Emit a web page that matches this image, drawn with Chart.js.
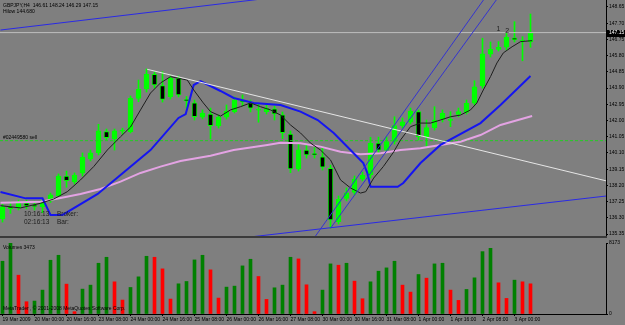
<!DOCTYPE html>
<html>
<head>
<meta charset="utf-8">
<title>GBPJPY,H4</title>
<script src="https://cdn.jsdelivr.net/npm/chart.js@4.4.1/dist/chart.umd.min.js"></script>
<style>
  html, body { margin: 0; padding: 0; background: #7f7f7f; }
  #wrap { position: relative; width: 625px; height: 325px; overflow: hidden; background: #7f7f7f; }
  #priceBox { position: absolute; left: 0; top: 0; width: 625px; height: 236px; }
  #volBox { position: absolute; left: 0; top: 238px; width: 625px; height: 87px; }
  #split { position: absolute; left: 0; top: 236px; width: 607px; height: 2px; background: #3a3a3a; }
  .lbl { position: absolute; font-family: "Liberation Sans", Arial, sans-serif; font-size: 5px; line-height: 6px; color: #000; white-space: nowrap; }
  .clock { font-size: 6.5px; line-height: 8px; color: #1c1c1c; }
</style>
</head>
<body>
<div id="wrap">
  <div id="priceBox"><canvas id="priceChart"></canvas></div>
  <div id="split"></div>
  <div id="volBox"><canvas id="volChart"></canvas></div>
  <div class="lbl" style="left:3px;top:2px">GBPJPY,H4&nbsp; 146.61 148.24 146.29 147.15</div>
  <div class="lbl" style="left:3px;top:8px">Hilow 144.680</div>
  <div class="lbl clock" style="left:24px;top:210px">10:16:13</div>
  <div class="lbl clock" style="left:57px;top:210px">Broker:</div>
  <div class="lbl clock" style="left:24px;top:218px">02:16:13</div>
  <div class="lbl clock" style="left:57px;top:218px">Bar:</div>
  <div class="lbl" style="left:3px;top:244px">Volumes 3473</div>
  <div class="lbl" style="left:3px;top:305px">MetaTrader , &copy; 2001-2008 MetaQuotes Software Corp.</div>
</div>
<script>
// H4 candles, bar 0 = 19 Mar 2009 08:00
const opens  = [136.23,136.95,136.86,137.17,137.03,136.95,137.29,137.60,138.75,138.40,138.91,139.75,140.10,141.35,140.93,141.38,141.34,143.30,143.85,144.71,144.04,143.40,144.47,143.22,143.03,142.19,142.38,141.68,142.19,142.52,143.20,143.04,142.60,142.52,142.69,142.34,141.21,139.16,140.27,140.04,139.88,139.20,136.07,137.44,137.79,138.57,138.81,140.68,140.26,140.77,141.70,141.90,142.52,141.05,141.58,142.07,142.01,142.36,142.48,143.01,144.02,145.88,146.17,146.29,146.85,146.66,146.61];
const highs  = [137.11,137.24,137.34,137.34,137.28,137.40,137.75,138.87,139.04,138.93,140.10,140.27,141.78,141.50,141.50,141.55,143.44,144.37,145.02,144.84,144.86,144.61,144.61,143.41,143.20,142.62,142.73,142.32,142.91,143.38,143.50,143.20,143.01,142.91,142.85,142.50,141.39,140.62,140.61,140.41,140.39,139.39,137.58,138.05,138.75,138.98,141.02,141.03,141.05,142.22,142.15,142.73,142.62,142.03,142.81,142.62,142.52,142.73,143.20,144.33,146.82,146.60,146.62,147.14,147.79,146.91,148.24];
const lows   = [136.05,136.56,136.76,136.82,136.76,136.60,137.20,137.52,138.09,138.28,138.75,139.63,139.98,140.86,140.27,141.20,141.27,143.10,143.67,143.90,143.08,143.26,143.38,142.72,142.03,142.09,140.92,141.56,142.09,142.44,142.85,142.50,141.90,142.38,142.03,140.93,138.94,139.04,139.80,139.80,139.10,135.69,135.94,137.29,137.64,138.46,138.63,140.10,140.16,140.62,141.56,141.80,140.86,140.47,141.44,141.91,141.64,142.21,142.38,142.91,143.90,145.72,146.07,146.13,146.60,145.50,146.29];
const closes = [136.95,136.83,137.19,137.00,136.97,137.29,137.64,138.75,138.47,138.81,139.85,140.10,141.39,141.00,141.39,141.42,143.30,143.83,144.71,144.08,143.24,144.47,143.50,143.16,142.22,142.43,141.70,142.19,142.56,143.20,143.09,142.72,142.64,142.72,142.38,141.29,139.16,140.29,139.98,140.00,139.26,136.17,137.38,137.77,138.56,138.81,140.67,140.27,140.76,141.70,141.93,142.56,141.05,141.58,142.03,142.42,142.05,142.52,143.01,143.98,145.90,146.17,146.29,146.87,146.72,146.70,147.15];
const volumes = [6073,8173,4468,1413,1489,2750,6187,6760,3437,267,2864,3323,5843,6531,3705,1604,3055,4277,6645,6531,5194,1719,3475,3743,6225,6760,5079,1833,3094,3208,5538,6302,4316,1680,3017,3323,6531,6340,3361,267,2750,5767,5614,5843,3781,1757,3705,4927,5309,6073,3323,2521,4545,4125,5767,5843,2750,1566,2826,4163,7180,7562,3590,1795,3896,3705,3473];

// indicator lines (bar position, price)
const maFastBars = [-0.25,2.25,4.75,6.4,8.1,9.75,11.4,13.1,14.75,16,17.25,18.5,19.75,21,23.1,23.9,25.1,26,27.25,28.5,29.75,31,32.25,33.5,34.75,36,37.25,38.5,39.75,41,42.25,43.5,44.75,45.4,46.4,47.6,48.9,49.75,51,52.25,53.5,54.75,56,57.25,58.5,59.3,60.1,61,61.8,62.6,63.7,64.75,66.2];
const maFastVals = [137.01,136.88,137.15,137.40,137.83,138.52,139.30,140.27,141.05,141.62,142.62,143.61,144.20,144.57,144.37,143.79,143.03,142.52,142.26,142.62,142.81,143.03,142.81,142.62,142.32,141.74,141.27,140.68,140.27,139.69,138.52,138.05,137.75,137.83,138.63,139.30,140.16,140.86,141.64,141.85,141.85,142.03,142.22,142.32,142.62,143.03,143.79,144.57,145.37,145.96,146.32,146.62,146.68];
const maBlueBars = [-0.25,2.9,5,6,7.5,11.9,18.5,22,22.9,23.9,24.75,27.25,28.9,31.4,34.75,37.25,39.4,41.4,43.5,45.1,45.6,46,49.4,50.1,52.25,54.75,59.75,62.25,66];
const maBlueVals = [137.81,137.44,137.44,136.47,136.47,137.70,140.27,142.15,142.38,144.08,144.31,143.73,143.32,143.03,142.91,142.52,142.03,141.27,140.27,139.51,138.93,138.12,138.12,138.34,139.51,140.57,141.85,142.91,144.61];
const maPinkBars = [-0.25,4.75,7.25,9.75,12.25,14.75,17.25,19.75,22.25,26,28.9,33.1,34.75,37.25,39.75,42.25,44.75,47.25,49.75,52.25,54.75,57.25,59.75,62.25,66.2];
const maPinkVals = [137.19,137.24,137.46,137.70,137.99,138.42,138.93,139.30,139.63,139.94,140.27,140.57,140.70,140.67,140.47,140.17,140.02,140.08,140.27,140.37,140.57,140.76,141.15,141.74,142.26];

// drawn objects: trend line and channels (two anchor points each)
const trendBars = [18.09, 75.5];     const trendVals = [145.00, 138.46];
const chanTopBars = [-0.25, 34.75];  const chanTopVals = [147.30, 149.25];
const chanLowBars = [31, 75.5];      const chanLowVals = [135.18, 137.58];
const steepABars = [38.77, 60.39];   const steepAVals = [135.00, 149.24];
const steepBBars = [41, 62.0];       const steepBVals = [135.69, 149.24];

const lastPrice = 147.15;
const orderPrice = 140.82;
const orderLabel = '#02449580 sell';
const waveMarks = [{ bar: 62, price: 147.35, text: '1' }, { bar: 63.1, price: 147.25, text: '2' }];

const priceTicks = [148.65,147.70,146.75,145.80,144.85,143.90,142.95,142.00,141.05,140.10,139.15,138.20,137.25,136.30,135.35];
const dateLabels = ['19 Mar 2009','20 Mar 00:00','20 Mar 16:00','23 Mar 08:00','24 Mar 00:00','24 Mar 16:00','25 Mar 08:00','26 Mar 00:00','26 Mar 16:00','27 Mar 08:00','30 Mar 00:00','30 Mar 16:00','31 Mar 08:00','1 Apr 00:00','1 Apr 16:00','2 Apr 08:00','3 Apr 00:00'];
const volTicks = [0, 8173];

const FONT = '"Liberation Sans", Arial, sans-serif';
const X_MIN = -0.3125, X_MAX = 75.4375;
const BULL = '#00ff00';

function lineSet(bars, vals, color, width, order, dash) {
  return {
    type: 'line',
    data: bars.map((b, k) => ({ x: b, y: vals[k] })),
    borderColor: color,
    borderWidth: width,
    borderDash: dash || [],
    pointRadius: 0,
    fill: false,
    tension: 0,
    order: order
  };
}

function squeeze(w) {
  return function (s) { s.width = w; s.paddingTop = 0; s.paddingBottom = 0; };
}

const idx = opens.map((_, i) => i);

const priceMarks = {
  id: 'priceMarks',
  afterDatasetsDraw(chart) {
    const { ctx, scales: { x, y } } = chart;
    ctx.save();
    ctx.fillStyle = '#000';
    ctx.font = '5px ' + FONT;
    ctx.textBaseline = 'bottom';
    ctx.fillText(orderLabel, x.left + 3, y.getPixelForValue(orderPrice) - 1);
    ctx.font = '7px ' + FONT;
    ctx.fillStyle = '#222';
    ctx.textAlign = 'center';
    ctx.textBaseline = 'middle';
    waveMarks.forEach(m => ctx.fillText(m.text, x.getPixelForValue(m.bar), y.getPixelForValue(m.price)));
    ctx.restore();
  },
  afterDraw(chart) {
    const { ctx, scales: { y } } = chart;
    const py = y.getPixelForValue(lastPrice);
    ctx.save();
    ctx.fillStyle = '#000';
    ctx.fillRect(y.left + 1, Math.round(py) - 3, 18, 7);
    ctx.fillStyle = '#fff';
    ctx.font = '5px ' + FONT;
    ctx.textBaseline = 'middle';
    ctx.fillText(lastPrice.toFixed(2), y.left + 3, py + 0.5);
    ctx.restore();
  }
};

new Chart(document.getElementById('priceChart'), {
  type: 'bar',
  data: {
    datasets: [
      { type: 'bar', data: idx.map(i => ({ x: i, y: [lows[i], highs[i]] })), backgroundColor: BULL, barThickness: 1, grouped: false, order: 20 },
      { type: 'bar', data: idx.map(i => ({ x: i, y: [opens[i], closes[i]] })),
        backgroundColor: idx.map(i => closes[i] >= opens[i] ? BULL : '#000'),
        borderColor: BULL, borderWidth: 1, borderSkipped: false, minBarLength: 1,
        barThickness: 5, grouped: false, order: 19 },
      lineSet([X_MIN, X_MAX], [lastPrice, lastPrice], '#bdbdbd', 1, 9),
      lineSet([X_MIN, X_MAX], [orderPrice, orderPrice], '#22cc22', 1, 8, [3, 2]),
      lineSet(maPinkBars, maPinkVals, '#e3a3e3', 2, 7),
      lineSet(maBlueBars, maBlueVals, '#1515f0', 2, 6),
      lineSet(maFastBars, maFastVals, '#1e1e1e', 1, 5),
      lineSet(trendBars, trendVals, '#e6e6e6', 1, 4),
      lineSet(chanTopBars, chanTopVals, '#2a2ae6', 1, 3),
      lineSet(chanLowBars, chanLowVals, '#2a2ae6', 1, 3),
      lineSet(steepABars, steepAVals, '#3434d0', 1, 2),
      lineSet(steepBBars, steepBVals, '#3434d0', 1, 2)
    ]
  },
  options: {
    responsive: true,
    maintainAspectRatio: false,
    animation: false,
    layout: { padding: 0 },
    plugins: { legend: { display: false }, tooltip: { enabled: false } },
    scales: {
      x: { type: 'linear', min: X_MIN, max: X_MAX, offset: false, display: false },
      y: {
        position: 'right',
        min: 135.235, max: 149.06,
        afterBuildTicks: s => { s.ticks = priceTicks.map(v => ({ value: v })); },
        afterFit: squeeze(19),
        grid: { drawOnChartArea: false, color: '#000', tickLength: 2 },
        border: { color: '#000', width: 1 },
        ticks: { autoSkip: false, padding: 1, color: '#000', font: { family: FONT, size: 5 }, callback: v => v.toFixed(2) }
      }
    }
  },
  plugins: [priceMarks]
});

new Chart(document.getElementById('volChart'), {
  type: 'bar',
  data: {
    datasets: [{
      data: idx.map(i => ({ x: i, y: volumes[i] })),
      backgroundColor: idx.map(i => (i === 0 || volumes[i] > volumes[i - 1]) ? '#008000' : '#ff0000'),
      barThickness: 3,
      grouped: false
    }]
  },
  options: {
    responsive: true,
    maintainAspectRatio: false,
    animation: false,
    layout: { padding: { top: 5 } },
    plugins: { legend: { display: false }, tooltip: { enabled: false } },
    scales: {
      x: {
        type: 'linear', min: X_MIN, max: X_MAX, offset: false,
        afterBuildTicks: s => { s.ticks = dateLabels.map((_, k) => ({ value: k * 4 })); },
        afterFit: s => { s.height = 11; s.paddingLeft = 0; s.paddingRight = 0; },
        grid: { drawOnChartArea: false, color: '#000', tickLength: 2, offset: false },
        border: { color: '#000', width: 1 },
        ticks: { autoSkip: false, maxRotation: 0, align: 'start', padding: 1, color: '#000',
          font: { family: FONT, size: 5 }, callback: (v, k) => dateLabels[k] }
      },
      y: {
        position: 'right',
        min: 0, max: 8173,
        afterBuildTicks: s => { s.ticks = volTicks.map(v => ({ value: v })); },
        afterFit: squeeze(19),
        grid: { drawOnChartArea: false, color: '#000', tickLength: 2 },
        border: { color: '#000', width: 1 },
        ticks: { autoSkip: false, padding: 1, color: '#000', font: { family: FONT, size: 5 }, callback: v => String(v) }
      }
    }
  }
});
</script>
</body>
</html>
